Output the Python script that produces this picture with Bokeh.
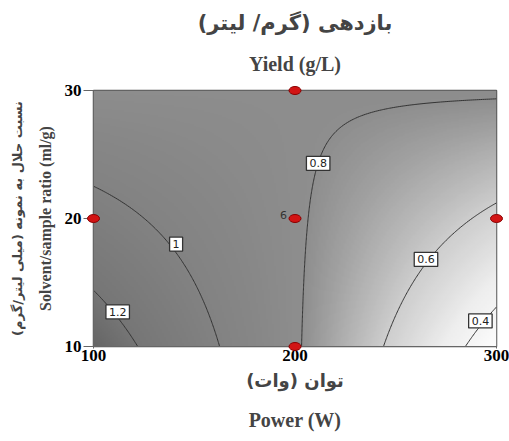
import numpy as np
from bokeh.plotting import figure
from bokeh.models import Title, Label, LinearColorMapper, FixedTicker
from bokeh.embed import file_html
from bokeh.resources import INLINE

# ---- data ----
power_ticks = [100, 200, 300]
ratio_ticks = [10, 20, 30]
design_power = [100, 200, 200, 200, 300]
design_ratio = [20, 10, 20, 30, 20]
center_point = [200, 20]
center_reps = "6"
# fitted response-surface coefficients (coded units): b0, A, B, AB, A^2, B^2
coef_values = [0.816, -0.246, 0.0, 0.246, 0.0, 0.0]
contour_levels = [0.4, 0.6, 0.8, 1.0, 1.2]
label_power = [112, 141, 211.5, 265, 292]
label_ratio = [12.7, 18.0, 24.3, 16.8, 12.0]
label_text = ["1.2", "1", "0.8", "0.6", "0.4"]
shade_values = [0.30, 0.45, 0.60, 0.70, 0.80, 0.90, 1.00, 1.20, 1.32]
shade_grays = [255, 238, 205, 175, 142, 135, 130, 118, 100]

# ---- surface ----
xs = np.linspace(power_ticks[0], power_ticks[-1], 201)
ys = np.linspace(ratio_ticks[0], ratio_ticks[-1], 201)
XX, YY = np.meshgrid(xs, ys)
A = (XX - 200) / 100
B = (YY - 20) / 10
b0, bA, bB, bAB, bAA, bBB = coef_values
Z = b0 + bA * A + bB * B + bAB * A * B + bAA * A ** 2 + bBB * B ** 2

lo, hi = shade_values[0], shade_values[-1]
palette = []
for i in range(256):
    v = lo + (hi - lo) * i / 255
    g = int(round(np.interp(v, shade_values, shade_grays)))
    palette.append("#%02x%02x%02x" % (g, g, g))
mapper = LinearColorMapper(palette=palette, low=lo, high=hi)

p = figure(width=509, height=441, output_backend="svg", toolbar_location=None,
           x_range=(100, 300), y_range=(10, 30),
           min_border_left=93, min_border_right=13, min_border_top=90, min_border_bottom=95)
p.background_fill_color = "white"
p.border_fill_color = "white"
p.outline_line_color = "#555555"
p.outline_line_width = 1.5
p.grid.visible = False

p.image(image=[Z], x=100, y=10, dw=200, dh=20, color_mapper=mapper)
p.contour(x=xs, y=ys, z=Z, levels=contour_levels, line_color="#333333", line_width=1)

for lx, ly, lt in zip(label_power, label_ratio, label_text):
    p.add_layout(Label(x=lx, y=ly, text=lt, text_align="center", text_baseline="middle",
                       text_font="DejaVu Sans", text_font_size="11px", text_color="#222222",
                       background_fill_color="white", border_line_color="#333333",
                       border_line_width=1.3, padding=3))

p.ellipse(x=design_power, y=design_ratio, width=12, height=8, width_units="screen",
          height_units="screen", fill_color="#d21414", line_color="#8a0000", line_width=1,
          level="overlay")
p.add_layout(Label(x=center_point[0], y=center_point[1], text=center_reps, x_offset=-8,
                   y_offset=0, text_align="right", text_baseline="bottom",
                   text_font="DejaVu Sans", text_font_size="11px", text_color="#333333"))

for ax, ticks in ((p.xaxis, power_ticks), (p.yaxis, ratio_ticks)):
    ax.ticker = FixedTicker(ticks=ticks)
    ax.minor_tick_line_color = None
    ax.major_label_text_font = "Liberation Serif"
    ax.major_label_text_font_style = "bold"
    ax.major_label_text_font_size = "17px"
    ax.major_label_text_color = "black"
    ax.axis_line_color = "#666666"
    ax.major_tick_line_color = "#666666"
    ax.major_tick_in = 0
p.xaxis.major_tick_out = 2
p.yaxis.major_tick_out = 10
p.xaxis.major_label_standoff = 1
p.yaxis.major_label_standoff = 2

# titles (first added is closest to the plot)
p.add_layout(Title(text="Yield (g/L)", align="center", text_font="Liberation Serif",
                   text_font_style="bold", text_font_size="20px", standoff=32), "above")
p.add_layout(Title(text="بازدهی (گرم/ لیتر)", align="center", text_font="DejaVu Sans",
                   text_font_style="bold", text_font_size="21px", standoff=0), "above")
p.add_layout(Title(text="Solvent/sample ratio (ml/g)", align="center", text_font="Liberation Serif",
                   text_font_style="bold", text_font_size="16px", standoff=15), "left")
p.add_layout(Title(text="نسبت حلال به نمونه (میلی لیتر/گرم)", align="center", text_font="DejaVu Sans",
                   text_font_style="bold", text_font_size="13px", standoff=6), "left")
p.add_layout(Title(text="توان (وات)", align="center", text_font="DejaVu Sans",
                   text_font_style="bold", text_font_size="18px", standoff=9), "below")
p.add_layout(Title(text="Power (W)", align="center", text_font="Liberation Serif",
                   text_font_style="bold", text_font_size="20px", standoff=22), "below")

open("out.html", "w").write(file_html(p, INLINE))
